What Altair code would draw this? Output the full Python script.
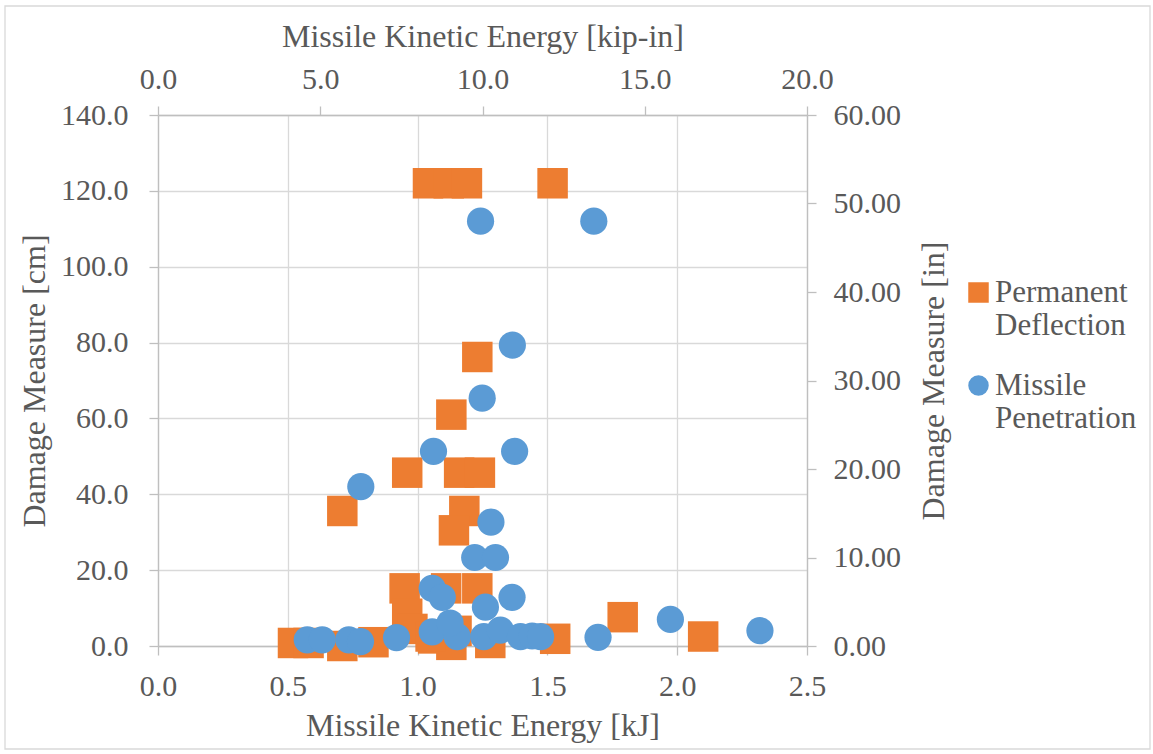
import altair as alt
import pandas as pd

FONT = "'Liberation Serif', 'Times New Roman', 'DejaVu Serif', serif"
TXT = "#595959"

# Permanent Deflection (primary axes: kJ, cm)
orange_kj = [1.04, 1.12, 1.19, 1.52, 1.23, 1.13, 0.96, 1.16, 1.24, 0.71, 1.18, 1.14,
             0.95, 1.11, 1.23, 0.96, 0.98, 0.52, 0.58, 0.71, 0.83, 1.06, 1.13, 1.28,
             1.15, 1.05, 1.53, 1.79, 2.10]
orange_cm = [122.0, 122.0, 122.0, 122.0, 76.2, 61.0, 45.7, 45.7, 45.7, 35.6, 35.6, 30.5,
             15.2, 15.2, 15.2, 8.5, 4.5, 0.8, 0.8, 0.0, 1.0, 2.0, 0.3, 0.8,
             4.0, 2.5, 1.9, 7.6, 2.5]

# Missile Penetration (secondary axes: kip-in, in)
blue_kipin = [9.94, 13.43, 10.92, 9.99, 8.49, 10.99, 6.25, 10.26, 9.76, 10.40, 8.45, 8.76,
              10.91, 10.09, 4.60, 5.06, 5.88, 6.24, 7.35, 8.45, 9.22, 10.04, 10.55, 11.17,
              11.53, 11.79, 13.56, 15.79, 18.55, 9.00]
blue_in = [48.0, 48.0, 34.0, 28.0, 22.0, 22.0, 18.0, 14.0, 10.0, 10.0, 6.5, 5.5,
           5.5, 4.4, 0.7, 0.7, 0.7, 0.5, 0.95, 1.6, 1.05, 1.05, 1.8, 1.05,
           1.13, 1.05, 0.98, 3.0, 1.73, 2.6]

series_names = ["Permanent Deflection", "Missile Penetration"]
series_colors = ["#ED7D31", "#5B9BD5"]
series_shapes = ["square", "circle"]

x_ticks_kj = [0, 0.5, 1.0, 1.5, 2.0, 2.5]
y_ticks_cm = [0, 20, 40, 60, 80, 100, 120, 140]
x_ticks_kipin = [0, 5, 10, 15, 20]
y_ticks_in = [0, 10, 20, 30, 40, 50, 60]

orange = pd.DataFrame({"kj": orange_kj, "cm": orange_cm, "series": series_names[0]})
blue = pd.DataFrame({"kipin": blue_kipin, "inch": blue_in, "series": series_names[1]})

W, H = 649, 531
LEFT, TOP = 158, 115

legend = alt.Legend(
    title=None, orient="none", legendX=805, legendY=162,
    labelExpr="split(datum.label, ' ')", labelFontSize=31, labelFont=FONT,
    labelColor=TXT, labelBaseline="middle", symbolSize=420, labelOffset=1,
    rowPadding=28, symbolStrokeWidth=0, labelLimit=400,
)
color = alt.Color("series:N", scale=alt.Scale(domain=series_names, range=series_colors), legend=legend)
shape = alt.Shape("series:N", scale=alt.Scale(domain=series_names, range=series_shapes), legend=legend)

border = alt.Chart(pd.DataFrame({"a": [0]})).mark_rect(
    fill="white", fillOpacity=0, stroke="#D9D9D9", strokeWidth=1.3
).encode(
    x=alt.value(-153), x2=alt.value(992), y=alt.value(-109), y2=alt.value(634)
)

orange_layer = alt.Chart(orange).mark_point(filled=True, size=930, opacity=1).encode(
    x=alt.X("kj:Q", scale=alt.Scale(domain=[0, 2.5], nice=False, zero=False),
            axis=alt.Axis(title="Missile Kinetic Energy [kJ]", orient="bottom", values=x_ticks_kj,
                          format=".1f", grid=True, labelPadding=16, labelFlush=False,
                          labelOverlap=False, titleBaseline="alphabetic", titleY=89)),
    y=alt.Y("cm:Q", scale=alt.Scale(domain=[0, 140], nice=False, zero=False),
            axis=alt.Axis(title="Damage Measure [cm]", orient="left", values=y_ticks_cm,
                          format=".1f", grid=True, labelPadding=21, labelOverlap=False,
                          titleAngle=270, titleBaseline="alphabetic", titleX=-114)),
    color=color, shape=shape,
)

blue_layer = alt.Chart(blue).mark_point(filled=True, size=740, opacity=1).encode(
    x=alt.X("kipin:Q", scale=alt.Scale(domain=[0, 20], nice=False, zero=False),
            axis=alt.Axis(title="Missile Kinetic Energy [kip-in]", orient="top", values=x_ticks_kipin,
                          format=".1f", grid=False, labelPadding=12, labelFlush=False,
                          labelOverlap=False, titleBaseline="alphabetic", titleY=-69)),
    y=alt.Y("inch:Q", scale=alt.Scale(domain=[0, 60], nice=False, zero=False),
            axis=alt.Axis(title="Damage Measure [in]", orient="right", values=y_ticks_in,
                          format=".2f", grid=False, labelPadding=17, labelOverlap=False,
                          titleAngle=270, titleBaseline="alphabetic", titleX=136)),
    color=color, shape=shape,
)

chart = alt.layer(border, orange_layer, blue_layer).resolve_scale(
    x="independent", y="independent"
).properties(
    width=W, height=H,
    autosize=alt.AutoSizeParams(type="none"),
    padding={"left": LEFT, "top": TOP, "right": 1153 - LEFT - W, "bottom": 754 - TOP - H},
    background="white",
).configure_view(stroke=None).configure_axis(
    labelFont=FONT, titleFont=FONT, labelColor=TXT, titleColor=TXT,
    labelFontSize=30, titleFontSize=32, titleFontWeight="normal",
    domainColor="#BFBFBF", tickColor="#BFBFBF", gridColor="#D9D9D9",
    domainWidth=1.3, tickWidth=1.3, gridWidth=1.3, tickSize=9,
).configure_legend(labelFont=FONT)

chart.save("out.html", embed_options={"renderer": "svg", "actions": False})
